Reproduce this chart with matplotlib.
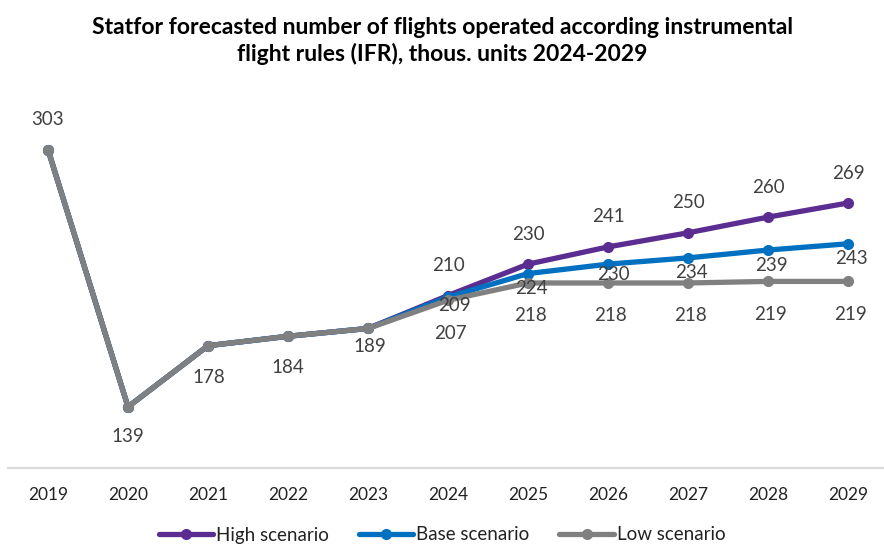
import matplotlib
matplotlib.use("Agg")
import matplotlib.pyplot as plt

years = [str(y) for y in range(2019, 2030)]
high = [303, 139, 178, 184, 189, 210, 230, 241, 250, 260, 269]
base = [303, 139, 178, 184, 189, 209, 224, 230, 234, 239, 243]
low = [303, 139, 178, 184, 189, 207, 218, 218, 218, 219, 219]

plt.rcParams["font.family"] = ["Lato", "DejaVu Sans"]

C_HIGH, C_BASE, C_LOW = "#5b2d90", "#0070c0", "#808080"
LBL = "#404040"

fig = plt.figure(figsize=(8.84, 5.45), dpi=100)
ax = fig.add_axes([8 / 884, 77 / 545, 880 / 884, 392 / 545])
x = list(range(len(years)))

for vals, c, name in [(high, C_HIGH, "High scenario"),
                      (base, C_BASE, "Base scenario"),
                      (low, C_LOW, "Low scenario")]:
    ax.plot(x, vals, "-o", color=c, lw=3.8, ms=7, label=name,
            solid_capstyle="round", zorder=3)

ax.set_xlim(-0.5, 10.5)
ax.set_ylim(100, 350)

def lab(i, v, dx, dy):
    ax.annotate(str(v), (i, v), xytext=(dx, dy), textcoords="offset pixels",
                ha="center", va="center", fontsize=13.5, color=LBL, zorder=5)

# history (all scenarios equal up to 2023)
hist_off = [(0, 30), (0, -30), (1, -32), (0, -31), (2, -18)]
for i, off in enumerate(hist_off):
    lab(i, low[i], *off)

# forecast years
for i in range(5, 11):
    lab(i, high[i], 0, 30)
    bx, by = (3, -15)
    if i == 5:
        bx, by = (6, -8)
    elif i == 7:
        bx, by = (5, -10)
    lab(i, base[i], bx, by)
    lab(i, low[i], 2, -33)

for s in ["left", "right", "top"]:
    ax.spines[s].set_visible(False)
ax.spines["bottom"].set_color("#d9d9d9")
ax.spines["bottom"].set_linewidth(1.6)
ax.set_yticks([])
ax.set_xticks(x)
ax.set_xticklabels(years, fontsize=12.5, color="#222222")
ax.tick_params(axis="x", length=0, pad=14)

fig.text(0.5, 1 - 41 / 545,
         "Statfor forecasted number of flights operated according instrumental\n"
         "flight rules (IFR), thous. units 2024-2029",
         ha="center", va="center", fontsize=16.5, fontweight="bold",
         linespacing=1.3)

fig.legend(loc="center", bbox_to_anchor=(0.5, 1 - 535 / 545), ncol=3,
           frameon=False, fontsize=13.5, handlelength=2.9, handletextpad=0.15,
           columnspacing=1.6, labelcolor="#222222")

fig.savefig("out.png", dpi=100)
